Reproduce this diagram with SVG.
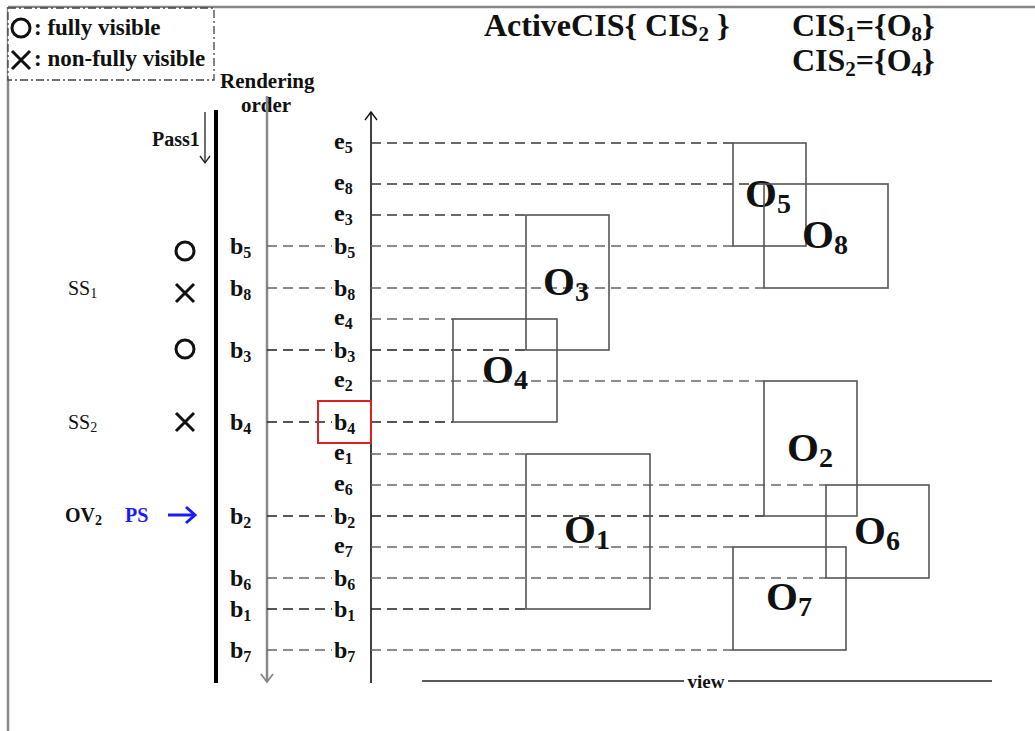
<svg xmlns="http://www.w3.org/2000/svg" width="1035" height="731" viewBox="0 0 1035 731">
<style>
text{font-family:"Liberation Serif","Times New Roman",serif;font-weight:bold;fill:#111}
.hdr{font-size:32px}
.hsub{font-size:21px}
.lbl{font-size:24px}
.sub{font-size:16px}
.obj{font-size:41px}
.osub{font-size:28px}
.box{fill:none;stroke:#555;stroke-width:1.6}
.dk{stroke:#222;stroke-width:1.6;stroke-dasharray:10 6;fill:none}
.md{stroke:#3a3a3a;stroke-width:1.6;stroke-dasharray:10 6;fill:none}
.gr{stroke:#666;stroke-width:1.7;stroke-dasharray:10 6;fill:none}
.sym{fill:none;stroke:#111;stroke-width:3}
</style>
<rect x="0" y="0" width="1035" height="731" fill="#fff"/>
<!-- page border -->
<line x1="8" y1="7" x2="1035" y2="7" stroke="#888" stroke-width="2.5"/>
<line x1="8" y1="7" x2="8" y2="731" stroke="#888" stroke-width="2.5"/>
<!-- legend -->
<g id="legend">
<rect x="8" y="8" width="206" height="72" fill="#fff" stroke="#444" stroke-width="1.3" stroke-dasharray="8 3 2 3"/>
<circle cx="21" cy="28" r="9" class="sym"/>
<path d="M12,51 L30,69 M30,51 L12,69" class="sym"/>
<text x="34" y="35" style="font-size:23px">: fully visible</text>
<text x="34" y="66" style="font-size:23px">: non-fully visible</text>
</g>
<!-- header -->
<g id="header">
<text x="484" y="36" class="hdr">ActiveCIS{ CIS<tspan class="hsub" dy="5">2</tspan><tspan dy="-5"> }</tspan></text>
<text x="792" y="36" class="hdr">CIS<tspan class="hsub" dy="5">1</tspan><tspan dy="-5">={O</tspan><tspan class="hsub" dy="5">8</tspan><tspan dy="-5">}</tspan></text>
<text x="792" y="71" class="hdr">CIS<tspan class="hsub" dy="5">2</tspan><tspan dy="-5">={O</tspan><tspan class="hsub" dy="5">4</tspan><tspan dy="-5">}</tspan></text>
</g>
<!-- axes -->
<g id="axes">
<text x="220" y="88" style="font-size:21px">Rendering</text>
<text x="266" y="112" style="font-size:21px" text-anchor="middle">order</text>
<line x1="216" y1="110" x2="216" y2="683" stroke="#000" stroke-width="4"/>
<line x1="267" y1="96" x2="267" y2="682" stroke="#888" stroke-width="2.5"/>
<path d="M261,674 L267,682 L273,674" fill="none" stroke="#888" stroke-width="1.8"/>
<line x1="371" y1="112" x2="371" y2="683" stroke="#111" stroke-width="1.6"/>
<path d="M365,120 L371,112 L377,120" fill="none" stroke="#111" stroke-width="1.4"/>
<text x="152" y="146" style="font-size:20px">Pass1</text>
<line x1="205" y1="112" x2="205" y2="163" stroke="#222" stroke-width="1.3"/>
<path d="M200,156 L205,163 L210,156" fill="none" stroke="#222" stroke-width="1.3"/>
<line x1="422" y1="681" x2="684" y2="681" stroke="#222" stroke-width="1.6"/>
<line x1="728" y1="681" x2="992" y2="681" stroke="#222" stroke-width="1.6"/>
<text x="706" y="688" style="font-size:19px" text-anchor="middle">view</text>
</g>
<!-- side labels -->
<g id="sets">
<text x="68" y="295" style="font-size:20px;font-weight:normal">SS<tspan style="font-size:14px" dy="3">1</tspan></text>
<text x="68" y="429" style="font-size:20px;font-weight:normal">SS<tspan style="font-size:14px" dy="3">2</tspan></text>
<text x="65" y="522" style="font-size:20px">OV<tspan style="font-size:14px" dy="3">2</tspan></text>
<text x="125" y="522" style="font-size:20px;fill:#1a1aff">PS</text>
<line x1="168" y1="515" x2="194" y2="515" stroke="#1a1aff" stroke-width="3"/>
<path d="M186,507 L195,515 L186,523" fill="none" stroke="#1a1aff" stroke-width="3"/>
<circle cx="185" cy="251" r="9" class="sym"/>
<path d="M176,284 L194,302 M194,284 L176,302" class="sym"/>
<circle cx="185" cy="349" r="9" class="sym"/>
<path d="M176,413 L194,431 M194,413 L176,431" class="sym"/>
</g>
<!-- connectors -->
<g id="connectors">
<line x1="371" y1="143" x2="733" y2="143" class="md"/>
<line x1="371" y1="184" x2="764" y2="184" class="md"/>
<line x1="371" y1="215" x2="526" y2="215" class="md"/>
<line x1="267" y1="246" x2="332" y2="246" class="gr"/>
<line x1="371" y1="246" x2="733" y2="246" class="gr"/>
<line x1="267" y1="288" x2="332" y2="288" class="gr"/>
<line x1="371" y1="288" x2="764" y2="288" class="gr"/>
<line x1="371" y1="319" x2="453" y2="319" class="gr"/>
<line x1="267" y1="350" x2="332" y2="350" class="dk"/>
<line x1="371" y1="350" x2="526" y2="350" class="dk"/>
<line x1="371" y1="381" x2="764" y2="381" class="gr"/>
<line x1="267" y1="422" x2="332" y2="422" class="dk"/>
<line x1="371" y1="422" x2="453" y2="422" class="dk"/>
<line x1="371" y1="454" x2="526" y2="454" class="gr"/>
<line x1="371" y1="485" x2="826" y2="485" class="gr"/>
<line x1="267" y1="516" x2="332" y2="516" class="dk"/>
<line x1="371" y1="516" x2="764" y2="516" class="dk"/>
<line x1="371" y1="547" x2="733" y2="547" class="gr"/>
<line x1="267" y1="578" x2="332" y2="578" class="gr"/>
<line x1="371" y1="578" x2="826" y2="578" class="gr"/>
<line x1="267" y1="609" x2="332" y2="609" class="dk"/>
<line x1="371" y1="609" x2="526" y2="609" class="dk"/>
<line x1="267" y1="650" x2="332" y2="650" class="gr"/>
<line x1="371" y1="650" x2="733" y2="650" class="gr"/>
</g>
<!-- rendering order labels (left) -->
<g id="orderLabels">
<text x="230" y="254" class="lbl">b<tspan class="sub" dy="4">5</tspan></text>
<text x="230" y="296" class="lbl">b<tspan class="sub" dy="4">8</tspan></text>
<text x="230" y="358" class="lbl">b<tspan class="sub" dy="4">3</tspan></text>
<text x="230" y="430" class="lbl">b<tspan class="sub" dy="4">4</tspan></text>
<text x="230" y="524" class="lbl">b<tspan class="sub" dy="4">2</tspan></text>
<text x="230" y="586" class="lbl">b<tspan class="sub" dy="4">6</tspan></text>
<text x="230" y="617" class="lbl">b<tspan class="sub" dy="4">1</tspan></text>
<text x="230" y="658" class="lbl">b<tspan class="sub" dy="4">7</tspan></text>
</g>
<!-- edge labels (middle) -->
<g id="edgeLabels">
<text x="334" y="149" class="lbl">e<tspan class="sub" dy="4">5</tspan></text>
<text x="334" y="190" class="lbl">e<tspan class="sub" dy="4">8</tspan></text>
<text x="334" y="221" class="lbl">e<tspan class="sub" dy="4">3</tspan></text>
<text x="334" y="254" class="lbl">b<tspan class="sub" dy="4">5</tspan></text>
<text x="334" y="296" class="lbl">b<tspan class="sub" dy="4">8</tspan></text>
<text x="334" y="325" class="lbl">e<tspan class="sub" dy="4">4</tspan></text>
<text x="334" y="358" class="lbl">b<tspan class="sub" dy="4">3</tspan></text>
<text x="334" y="387" class="lbl">e<tspan class="sub" dy="4">2</tspan></text>
<text x="334" y="430" class="lbl">b<tspan class="sub" dy="4">4</tspan></text>
<text x="334" y="460" class="lbl">e<tspan class="sub" dy="4">1</tspan></text>
<text x="334" y="491" class="lbl">e<tspan class="sub" dy="4">6</tspan></text>
<text x="334" y="524" class="lbl">b<tspan class="sub" dy="4">2</tspan></text>
<text x="334" y="553" class="lbl">e<tspan class="sub" dy="4">7</tspan></text>
<text x="334" y="586" class="lbl">b<tspan class="sub" dy="4">6</tspan></text>
<text x="334" y="617" class="lbl">b<tspan class="sub" dy="4">1</tspan></text>
<text x="334" y="658" class="lbl">b<tspan class="sub" dy="4">7</tspan></text>
<rect id="highlight" x="318" y="401" width="53" height="42" fill="none" stroke="#e02020" stroke-width="2"/>
</g>
<!-- objects -->
<g id="O5"><rect x="733" y="143" width="73" height="103" class="box"/><text x="745" y="207" class="obj">O<tspan class="osub" dy="6">5</tspan></text></g>
<g id="O8"><rect x="764" y="184" width="124" height="104" class="box"/><text x="802" y="248" class="obj">O<tspan class="osub" dy="6">8</tspan></text></g>
<g id="O3"><rect x="526" y="215" width="83" height="135" class="box"/><text x="543" y="295" class="obj">O<tspan class="osub" dy="6">3</tspan></text></g>
<g id="O4"><rect x="453" y="319" width="104" height="103" class="box"/><text x="482" y="383" class="obj">O<tspan class="osub" dy="6">4</tspan></text></g>
<g id="O2"><rect x="764" y="381" width="93" height="135" class="box"/><text x="787" y="461" class="obj">O<tspan class="osub" dy="6">2</tspan></text></g>
<g id="O1"><rect x="526" y="454" width="124" height="155" class="box"/><text x="564" y="543" class="obj">O<tspan class="osub" dy="6">1</tspan></text></g>
<g id="O6"><rect x="826" y="485" width="103" height="93" class="box"/><text x="854" y="544" class="obj">O<tspan class="osub" dy="6">6</tspan></text></g>
<g id="O7"><rect x="733" y="547" width="113" height="103" class="box"/><text x="766" y="610" class="obj">O<tspan class="osub" dy="6">7</tspan></text></g>
</svg>
